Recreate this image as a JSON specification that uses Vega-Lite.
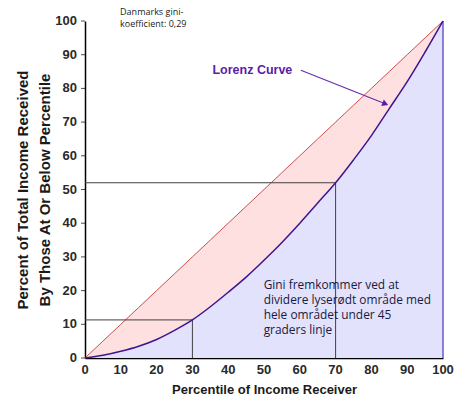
{
  "$schema": "https://vega.github.io/schema/vega-lite/v6.json",
  "width": 358,
  "height": 337,
  "autosize": "none",
  "padding": {"left": 85, "top": 21, "right": 19, "bottom": 40},
  "background": "white",
  "config": {"view": {"stroke": null}, "axis": {"grid": false}},
  "datasets": {
    "curve": [
      {"p": 0, "eq": 0, "lorenz": 0},
      {"p": 5, "eq": 5, "lorenz": 0.8},
      {"p": 10, "eq": 10, "lorenz": 2},
      {"p": 15, "eq": 15, "lorenz": 3.5},
      {"p": 20, "eq": 20, "lorenz": 5.5},
      {"p": 25, "eq": 25, "lorenz": 8.2},
      {"p": 30, "eq": 30, "lorenz": 11.3},
      {"p": 35, "eq": 35, "lorenz": 15.2},
      {"p": 40, "eq": 40, "lorenz": 19.5},
      {"p": 45, "eq": 45, "lorenz": 24},
      {"p": 50, "eq": 50, "lorenz": 29},
      {"p": 55, "eq": 55, "lorenz": 34.3},
      {"p": 60, "eq": 60, "lorenz": 40},
      {"p": 65, "eq": 65, "lorenz": 46},
      {"p": 70, "eq": 70, "lorenz": 52},
      {"p": 75, "eq": 75, "lorenz": 58.8},
      {"p": 80, "eq": 80, "lorenz": 66},
      {"p": 85, "eq": 85, "lorenz": 74},
      {"p": 90, "eq": 90, "lorenz": 82},
      {"p": 95, "eq": 95, "lorenz": 90.8},
      {"p": 100, "eq": 100, "lorenz": 100}
    ],
    "refs": [
      {"x": 0, "x2": 70, "y": 52, "y2": 52},
      {"x": 70, "x2": 70, "y": 0, "y2": 52},
      {"x": 0, "x2": 30, "y": 11.3, "y2": 11.3},
      {"x": 30, "x2": 30, "y": 0, "y2": 11.3}
    ],
    "ticks": [
      {"v": 0}, {"v": 10}, {"v": 20}, {"v": 30}, {"v": 40}, {"v": 50},
      {"v": 60}, {"v": 70}, {"v": 80}, {"v": 90}, {"v": 100}
    ]
  },
  "layer": [
    {
      "data": {"name": "curve"},
      "mark": {"type": "area", "color": "#FFE0E0", "opacity": 1},
      "encoding": {
        "x": {"field": "p", "type": "quantitative", "scale": {"domain": [0, 100], "nice": false},
          "axis": {"labels": false, "ticks": false, "domainColor": "#000", "domainWidth": 1.5,
            "title": "Percentile of Income Receiver", "titleFont": "Liberation Sans", "titleFontSize": 13, "titleFontWeight": "bold", "titleColor": "#1a1a1a", "titlePadding": 25}},
        "y": {"field": "eq", "type": "quantitative", "scale": {"domain": [0, 100], "nice": false},
          "axis": {"labels": false, "ticks": false, "domainColor": "#000", "domainWidth": 1.5,
            "title": ["Percent of Total Income Received", "By Those At Or Below Percentile"], "titleFont": "Liberation Sans", "titleFontSize": 15, "titleFontWeight": "bold", "titleColor": "#1a1a1a", "titlePadding": 33, "titleLineHeight": 22}},
        "y2": {"field": "lorenz"}
      }
    },
    {
      "data": {"name": "curve"},
      "mark": {"type": "area", "color": "#E2E2FC", "opacity": 1},
      "encoding": {
        "x": {"field": "p", "type": "quantitative"},
        "y": {"field": "lorenz", "type": "quantitative"}
      }
    },
    {
      "data": {"name": "curve"},
      "mark": {"type": "line", "color": "#C8504D", "strokeWidth": 1},
      "encoding": {
        "x": {"field": "p", "type": "quantitative"},
        "y": {"field": "eq", "type": "quantitative"}
      }
    },
    {
      "data": {"name": "refs"},
      "mark": {"type": "rule", "color": "#404040", "strokeWidth": 1},
      "encoding": {
        "x": {"field": "x", "type": "quantitative"},
        "x2": {"field": "x2"},
        "y": {"field": "y", "type": "quantitative"},
        "y2": {"field": "y2"}
      }
    },
    {
      "data": {"values": [{"x": 100, "y": 0, "y2": 100}]},
      "mark": {"type": "rule", "color": "#6A5ACD", "strokeWidth": 1.5},
      "encoding": {
        "x": {"field": "x", "type": "quantitative"},
        "y": {"field": "y", "type": "quantitative"},
        "y2": {"field": "y2"}
      }
    },
    {
      "data": {"name": "curve"},
      "mark": {"type": "line", "color": "#3F1490", "strokeWidth": 1.5, "interpolate": "monotone"},
      "encoding": {
        "x": {"field": "p", "type": "quantitative"},
        "y": {"field": "lorenz", "type": "quantitative"}
      }
    },
    {
      "data": {"name": "ticks"},
      "mark": {"type": "tick", "orient": "horizontal", "color": "#000", "size": 4, "thickness": 1, "xOffset": -2, "clip": false},
      "encoding": {
        "y": {"field": "v", "type": "quantitative"},
        "x": {"datum": 0, "type": "quantitative"}
      }
    },
    {
      "data": {"name": "ticks"},
      "mark": {"type": "text", "align": "right", "baseline": "middle", "dx": -8, "font": "Liberation Sans", "fontSize": 13, "fontWeight": "bold", "color": "#2a2a2a", "clip": false},
      "encoding": {
        "y": {"field": "v", "type": "quantitative"},
        "x": {"datum": 0, "type": "quantitative"},
        "text": {"field": "v", "type": "quantitative"}
      }
    },
    {
      "data": {"name": "ticks"},
      "mark": {"type": "text", "align": "center", "baseline": "middle", "dy": 12, "font": "Liberation Sans", "fontSize": 13, "fontWeight": "bold", "color": "#2a2a2a", "clip": false},
      "encoding": {
        "x": {"field": "v", "type": "quantitative"},
        "y": {"datum": 0, "type": "quantitative"},
        "text": {"field": "v", "type": "quantitative"}
      }
    },
    {
      "data": {"values": [{"x": 60.3, "y": 85.4, "x2": 83.5, "y2": 75.6}]},
      "mark": {"type": "rule", "color": "#6A2DB0", "strokeWidth": 1.2},
      "encoding": {
        "x": {"field": "x", "type": "quantitative"},
        "x2": {"field": "x2"},
        "y": {"field": "y", "type": "quantitative"},
        "y2": {"field": "y2"}
      }
    },
    {
      "data": {"values": [{"x": 83.9, "y": 75.4}]},
      "mark": {"type": "point", "shape": "triangle-right", "filled": true, "color": "#5A1EA8", "size": 50, "angle": 22, "opacity": 1},
      "encoding": {
        "x": {"field": "x", "type": "quantitative"},
        "y": {"field": "y", "type": "quantitative"}
      }
    },
    {
      "data": {"values": [{"x": 35.6, "y": 85.6, "t": "Lorenz Curve"}]},
      "mark": {"type": "text", "align": "left", "baseline": "middle", "font": "Liberation Sans", "fontSize": 12.5, "fontWeight": "bold", "color": "#5A1EA8"},
      "encoding": {
        "x": {"field": "x", "type": "quantitative"},
        "y": {"field": "y", "type": "quantitative"},
        "text": {"field": "t"}
      }
    },
    {
      "data": {"values": [{"x": 9.8, "y": 102.6, "t": "Danmarks gini-\nkoefficient: 0,29"}]},
      "mark": {"type": "text", "align": "left", "baseline": "middle", "font": "Open Sans", "fontSize": 9, "color": "#1a1a1a", "lineBreak": "\n", "lineHeight": 12},
      "encoding": {
        "x": {"field": "x", "type": "quantitative"},
        "y": {"field": "y", "type": "quantitative"},
        "text": {"field": "t"}
      }
    },
    {
      "data": {"values": [{"x": 49.9, "y": 21.7, "t": "Gini fremkommer ved at\ndividere lyserødt område med\nhele området under 45\ngraders linje"}]},
      "mark": {"type": "text", "align": "left", "baseline": "middle", "font": "Open Sans", "fontSize": 11.9, "color": "#1a1a40", "lineBreak": "\n", "lineHeight": 15.2},
      "encoding": {
        "x": {"field": "x", "type": "quantitative"},
        "y": {"field": "y", "type": "quantitative"},
        "text": {"field": "t"}
      }
    }
  ]
}
